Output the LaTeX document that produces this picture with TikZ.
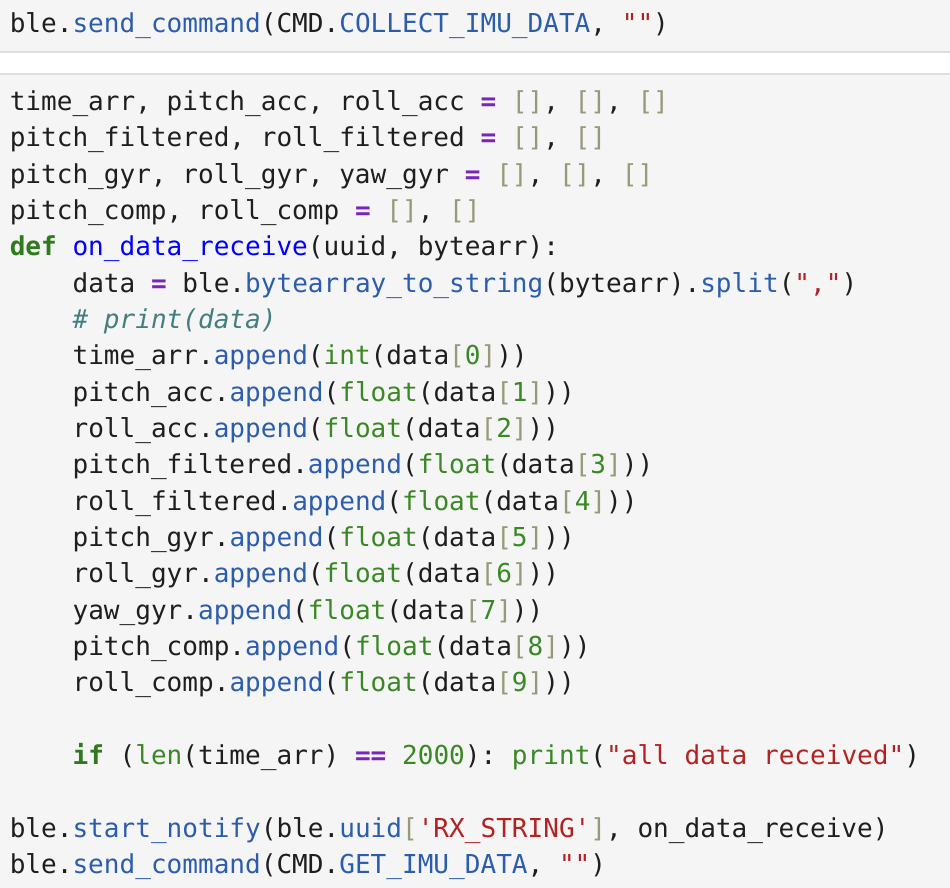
\documentclass[tikz,border=0pt]{standalone}
\usepackage{fontspec}
\setmonofont{DejaVu Sans Mono}
\usepackage[HTML]{xcolor}
\usepackage{tikz}
\usetikzlibrary{positioning}

\definecolor{cellbg}{HTML}{F5F5F5}
\definecolor{cellrule}{HTML}{DEDEDE}
\definecolor{plain}{HTML}{1E1E1E}
\definecolor{propc}{HTML}{2C5DAD}
\definecolor{defc}{HTML}{0000FF}
\definecolor{kwc}{HTML}{2E7A1C}
\definecolor{bic}{HTML}{3A8825}
\definecolor{opc}{HTML}{7A24BE}
\definecolor{brc}{HTML}{999977}
\definecolor{strc}{HTML}{B22222}
\definecolor{comc}{HTML}{457E7E}

\newcommand{\cprop}[1]{\textcolor{propc}{#1}}
\newcommand{\cdef}[1]{\textcolor{defc}{#1}}
\newcommand{\ckw}[1]{\textcolor{kwc}{\bfseries #1}}
\newcommand{\cbi}[1]{\textcolor{bic}{#1}}
\newcommand{\cop}[1]{\textcolor{opc}{\bfseries #1}}
\newcommand{\cbr}[1]{\textcolor{brc}{#1}}
\newcommand{\cstr}[1]{\textcolor{strc}{#1}}
\newcommand{\ccom}[1]{\textcolor{comc}{\itshape #1}}
\newcommand{\us}{\_}
\newcommand{\sq}{\textquotesingle}

\tikzset{
  codeline/.style={anchor=base west, inner sep=0pt, text=plain,
    font=\ttfamily\fontsize{19.55pt}{27pt}\selectfont},
}

\begin{document}
\begin{tikzpicture}[x=0.75pt, y=-0.75pt]
\useasboundingbox (0,0) rectangle (950,888);
% cells
\fill[white] (0,0) rectangle (950,888);
\fill[cellbg] (0,0) rectangle (950,51);
\fill[cellrule] (0,51) rectangle (950,53);
\fill[cellrule] (0,73) rectangle (950,75);
\fill[cellbg] (0,75) rectangle (950,888);
% first cell
\node[codeline] (c1) at (9.5,32.5) {ble.\cprop{send\us command}(CMD.\cprop{COLLECT\us IMU\us DATA}, \cstr{""})};
% second cell
\node[codeline] (l0) at (9.5,110.5) {time\us arr, pitch\us acc, roll\us acc \cop{=} \cbr{[]}, \cbr{[]}, \cbr{[]}};
\node[codeline] (l1) at (9.5,146.83) {pitch\us filtered, roll\us filtered \cop{=} \cbr{[]}, \cbr{[]}};
\node[codeline] (l2) at (9.5,183.17) {pitch\us gyr, roll\us gyr, yaw\us gyr \cop{=} \cbr{[]}, \cbr{[]}, \cbr{[]}};
\node[codeline] (l3) at (9.5,219.5) {pitch\us comp, roll\us comp \cop{=} \cbr{[]}, \cbr{[]}};
\node[codeline] (l4) at (9.5,255.83) {\ckw{def} \cdef{on\us data\us receive}(uuid, bytearr):};
\node[codeline] (l5) at (72.3,292.17) {data \cop{=} ble.\cprop{bytearray\us to\us string}(bytearr).\cprop{split}(\cstr{","})};
\node[codeline] (l6) at (72.3,328.5) {\ccom{\# print(data)}};
\node[codeline] (l7) at (72.3,364.83) {time\us arr.\cprop{append}(\cbi{int}(data\cbr{[}\cbi{0}\cbr{]}))};
\node[codeline] (l8) at (72.3,401.17) {pitch\us acc.\cprop{append}(\cbi{float}(data\cbr{[}\cbi{1}\cbr{]}))};
\node[codeline] (l9) at (72.3,437.5) {roll\us acc.\cprop{append}(\cbi{float}(data\cbr{[}\cbi{2}\cbr{]}))};
\node[codeline] (l10) at (72.3,473.83) {pitch\us filtered.\cprop{append}(\cbi{float}(data\cbr{[}\cbi{3}\cbr{]}))};
\node[codeline] (l11) at (72.3,510.17) {roll\us filtered.\cprop{append}(\cbi{float}(data\cbr{[}\cbi{4}\cbr{]}))};
\node[codeline] (l12) at (72.3,546.5) {pitch\us gyr.\cprop{append}(\cbi{float}(data\cbr{[}\cbi{5}\cbr{]}))};
\node[codeline] (l13) at (72.3,582.83) {roll\us gyr.\cprop{append}(\cbi{float}(data\cbr{[}\cbi{6}\cbr{]}))};
\node[codeline] (l14) at (72.3,619.17) {yaw\us gyr.\cprop{append}(\cbi{float}(data\cbr{[}\cbi{7}\cbr{]}))};
\node[codeline] (l15) at (72.3,655.5) {pitch\us comp.\cprop{append}(\cbi{float}(data\cbr{[}\cbi{8}\cbr{]}))};
\node[codeline] (l16) at (72.3,691.83) {roll\us comp.\cprop{append}(\cbi{float}(data\cbr{[}\cbi{9}\cbr{]}))};
\node[codeline] (l18) at (72.3,764.5) {\ckw{if} (\cbi{len}(time\us arr) \cop{==} \cbi{2000}): \cbi{print}(\cstr{"all data received"})};
\node[codeline] (l20) at (9.5,837.17) {ble.\cprop{start\us notify}(ble.\cprop{uuid}\cbr{[}\cstr{\sq RX\us STRING\sq}\cbr{]}, on\us data\us receive)};
\node[codeline] (l21) at (9.5,873.5) {ble.\cprop{send\us command}(CMD.\cprop{GET\us IMU\us DATA}, \cstr{""})};
\end{tikzpicture}
\end{document}
